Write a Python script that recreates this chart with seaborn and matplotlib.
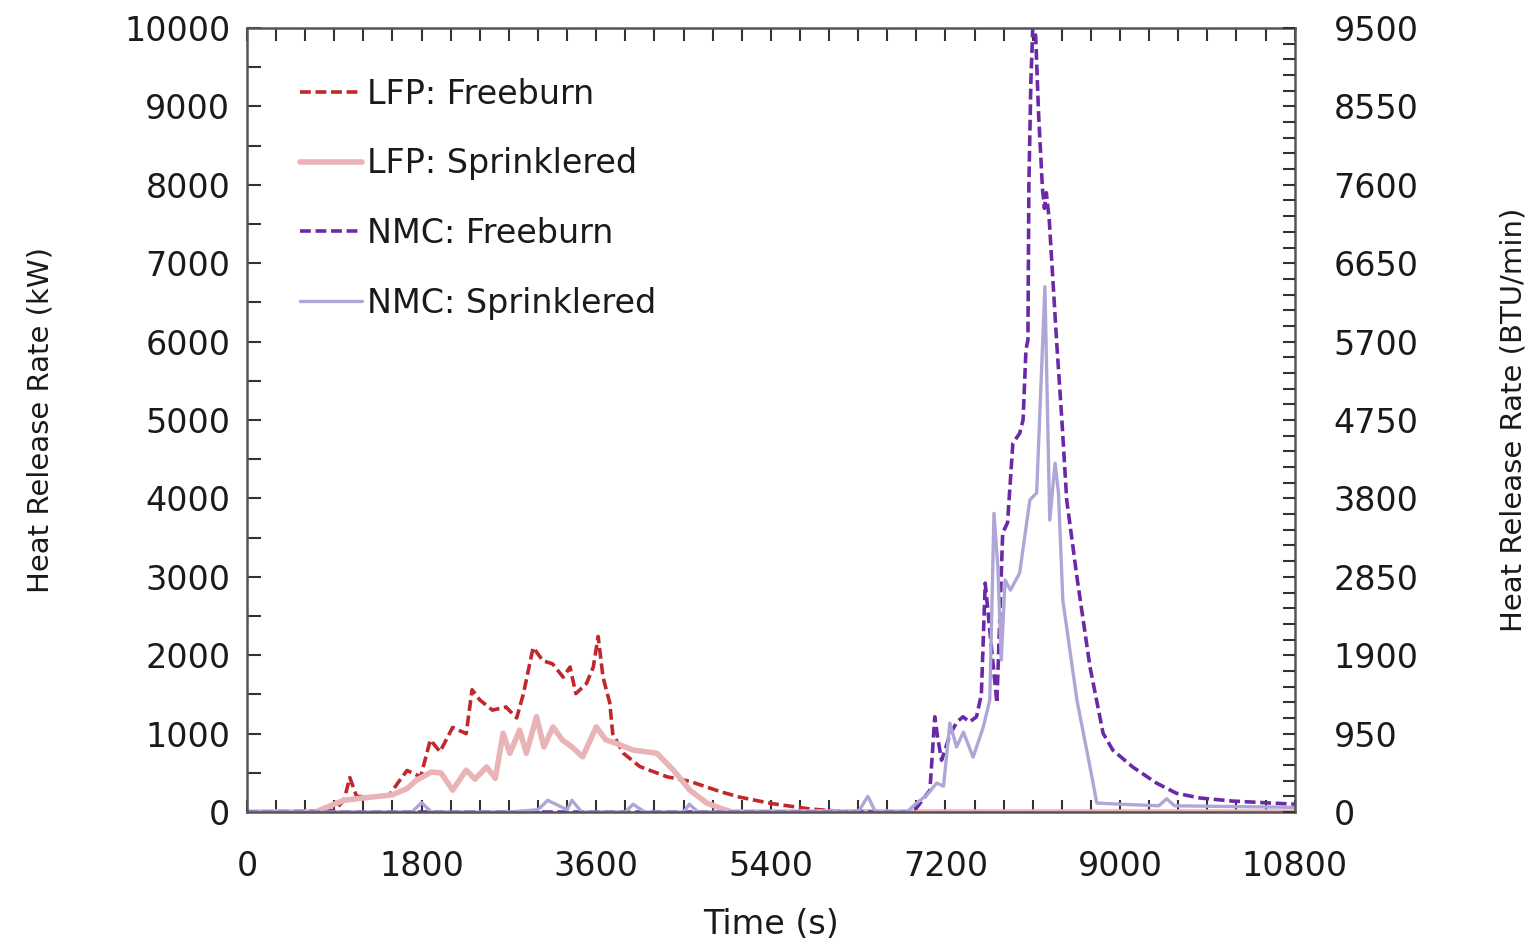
import numpy as np
import pandas as pd
import matplotlib
matplotlib.use("Agg")
import matplotlib.pyplot as plt
from matplotlib.ticker import MultipleLocator
import seaborn as sns

# values (time in s, HRR in kW)
lfp_free_t = [0, 900, 1000, 1060, 1130, 1300, 1470, 1560, 1650, 1790, 1890, 1990, 2120, 2260, 2320,
              2400, 2530, 2670, 2780, 2850, 2950, 3050, 3150, 3260, 3330, 3390, 3500, 3570, 3620,
              3670, 3740, 3770, 3880, 4050, 4330, 4570, 4880, 5080, 5400, 5800, 6100, 7000, 10800]
lfp_free_v = [0, 20, 150, 440, 200, 190, 220, 380, 530, 450, 920, 770, 1080, 1000, 1560,
              1430, 1300, 1340, 1200, 1510, 2100, 1930, 1890, 1720, 1850, 1510, 1640, 1850, 2240,
              1720, 1390, 1000, 750, 580, 450, 390, 260, 190, 110, 40, 10, 0, 0]

lfp_spr_t = [0, 700, 1000, 1200, 1500, 1650, 1750, 1900, 2000, 2120, 2260, 2350, 2470, 2560, 2640,
             2710, 2810, 2880, 2985, 3060, 3155, 3250, 3350, 3460, 3600, 3700, 3810, 3980, 4225,
             4395, 4565, 4740, 4900, 5000, 10800]
lfp_spr_v = [0, 0, 150, 180, 220, 300, 410, 510, 500, 280, 535, 420, 575, 430, 1005,
             750, 1045, 750, 1215, 830, 1085, 920, 830, 705, 1085, 920, 875, 790, 750,
             535, 280, 115, 40, 0, 0]

nmc_free_t = [0, 6800, 6900, 7040, 7090, 7120, 7160, 7250, 7320, 7380, 7450, 7520, 7570, 7610,
              7730, 7790, 7840, 7895, 7965, 8000, 8030, 8050, 8060, 8080, 8100, 8130, 8160, 8200,
              8220, 8240, 8270, 8345, 8400, 8450, 8555, 8690, 8825, 8925, 9130, 9375, 9580, 9820,
              10160, 10800]
nmc_free_v = [0, 0, 50, 280, 1215, 950, 660, 1000, 1150, 1215, 1150, 1215, 1500, 2920,
              1390, 3560, 3690, 4705, 4830, 5000, 5900, 6020, 8000, 9300, 10000, 9900, 8900, 7950,
              7700, 7900, 7550, 6020, 5000, 3980, 3000, 1850, 1005, 790, 575, 370, 240, 180,
              140, 100]

nmc_spr_t = [0, 1700, 1800, 1900, 2700, 3000, 3100, 3300, 3350, 3450, 3900, 3980, 4100, 4500, 4560,
             4650, 6300, 6400, 6480, 6800, 6904, 7008, 7110, 7180, 7245, 7315, 7385, 7485, 7590,
             7657, 7700, 7740, 7775, 7815, 7870, 7965, 8070, 8140, 8225, 8275, 8330, 8365, 8410,
             8555, 8690, 8760, 9000, 9400, 9480, 9560, 10800]
nmc_spr_v = [0, 0, 120, 0, 0, 30, 150, 30, 150, 0, 0, 100, 0, 0, 100,
             0, 0, 200, 0, 0, 115, 217, 370, 330, 1135, 830, 1020, 700, 1085,
             1430, 3810, 3125, 1940, 2960, 2830, 3050, 3980, 4070, 6700, 3725, 4450, 4070, 2700,
             1430, 575, 115, 100, 80, 170, 80, 60]

x_ticks = [0, 1800, 3600, 5400, 7200, 9000, 10800]
left_ticks = list(range(0, 10001, 1000))
right_ticks = list(range(0, 9501, 950))

sns.set_style("ticks")
plt.rcParams['font.family'] = ['DejaVu Sans']
plt.rcParams['text.color'] = '#1a1a1a'
plt.rcParams['axes.labelcolor'] = '#1a1a1a'
plt.rcParams['xtick.labelcolor'] = '#1a1a1a'
plt.rcParams['ytick.labelcolor'] = '#1a1a1a'

fig = plt.figure(figsize=(15.34, 9.52), dpi=100)
ax = fig.add_axes([0.161, 0.147, 0.683, 0.8236])

series = [
    ("LFP: Freeburn", lfp_free_t, lfp_free_v, "#c0282d", (3, 1.3), 2.6),
    ("LFP: Sprinklered", lfp_spr_t, lfp_spr_v, "#eab3b5", None, 4.0),
    ("NMC: Freeburn", nmc_free_t, nmc_free_v, "#6a2aa8", (3, 1.3), 2.6),
    ("NMC: Sprinklered", nmc_spr_t, nmc_spr_v, "#aea6d6", None, 2.4),
]
for name, t, v, col, dash, lw in series:
    df = pd.DataFrame({"t": t, "v": v})
    sns.lineplot(data=df, x="t", y="v", ax=ax, color=col, linewidth=lw,
                 label=name, sort=False, estimator=None)
    if dash is not None:
        ax.lines[-1].set_dashes(dash)

ax.set_xlim(0, 10800)
ax.set_ylim(0, 10000)
ax.set_xticks(x_ticks)
ax.set_yticks(left_ticks)
ax.xaxis.set_minor_locator(MultipleLocator(300))
ax.yaxis.set_minor_locator(MultipleLocator(500))
ax.tick_params(axis="both", which="both", direction="in", labelsize=24, color="#333333")
ax.tick_params(axis="x", which="both", top=True, length=9, width=1.5, pad=27)
ax.tick_params(axis="y", which="both", length=10, width=1.5, pad=12)
ax.set_xlabel("Time (s)", fontsize=24, labelpad=18)
ax.set_ylabel("Heat Release Rate (kW)", fontsize=21, labelpad=50)
for sp in ax.spines.values():
    sp.set_color("#555555")
    sp.set_linewidth(1.8)

ax2 = ax.twinx()
ax2.set_ylim(0, 9500)
ax2.set_yticks(right_ticks)
ax2.yaxis.set_minor_locator(MultipleLocator(190))
ax2.tick_params(axis="y", which="both", direction="in", length=9, width=1.5,
                labelsize=24, pad=28, color="#333333")
ax2.set_ylabel("Heat Release Rate (BTU/min)", fontsize=21, labelpad=58)
for sp in ax2.spines.values():
    sp.set_visible(False)

leg = ax.legend(loc="upper left", frameon=False, fontsize=24, handlelength=1.85,
                handletextpad=0.15, labelspacing=1.1, bbox_to_anchor=(0.022, 0.975))

fig.savefig("out.png", dpi=100)
